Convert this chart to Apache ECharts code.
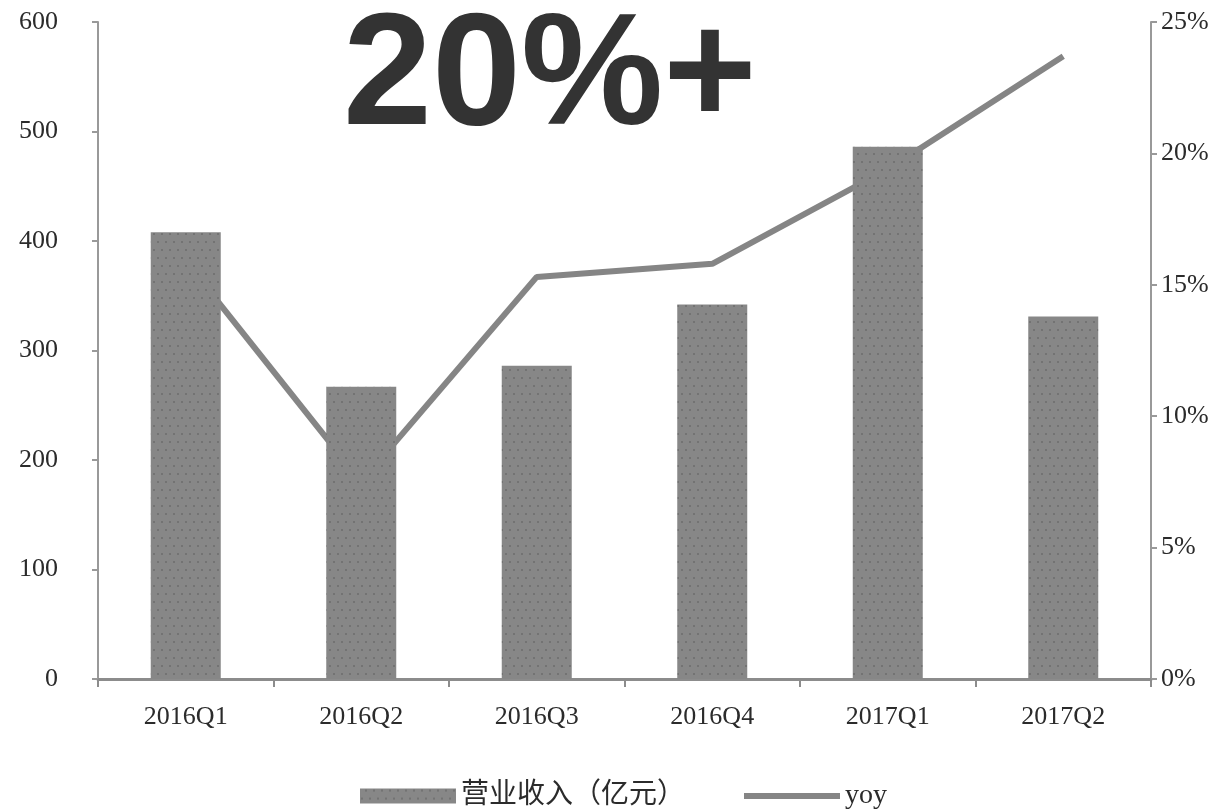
<!DOCTYPE html>
<html>
<head>
<meta charset="utf-8">
<script src="https://cdn.jsdelivr.net/npm/echarts@6/dist/echarts.min.js"></script>
<style>
  html, body { margin: 0; padding: 0; background: #fff; }
  #main { width: 1225px; height: 809px; }
</style>
</head>
<body>
<div id="main"></div>
<script>
var categories = ['2016Q1', '2016Q2', '2016Q3', '2016Q4', '2017Q1', '2017Q2'];
var revenue = [408, 267, 286, 342, 486, 331];      // 营业收入（亿元）
var yoy = [15.9, 7.5, 15.3, 15.8, 19.4, 23.7];       // yoy, %
var leftTicks = { min: 0, max: 600, interval: 100 };
var rightTicks = { min: 0, max: 25, interval: 5 };

var labelFont = {
    color: '#2b2b2b',
    fontFamily: '"Liberation Serif", "DejaVu Serif", serif',
    fontSize: 26
};

var myChart = echarts.init(document.getElementById('main'));

var option = {
    animation: false,
    backgroundColor: '#fff',
    grid: { left: 98, right: 74, top: 22, bottom: 130, containLabel: false },
    legend: {
        top: 777,
        left: 355,
        itemWidth: 96,
        itemHeight: 15,
        itemGap: 56,
        textStyle: {
            color: '#2b2b2b',
            fontFamily: '"Liberation Serif", "Noto Sans CJK SC", serif',
            fontSize: 28
        },
        data: [
            { name: '营业收入（亿元）', icon: 'rect' },
            {
                name: 'yoy',
                itemStyle: { color: 'transparent', borderWidth: 0, opacity: 0 },
                lineStyle: { color: '#858585', width: 6 }
            }
        ]
    },
    xAxis: {
        type: 'category',
        data: categories,
        boundaryGap: true,
        axisLine: { lineStyle: { color: '#8c8c8c', width: 3 } },
        axisTick: { show: true, length: 8, lineStyle: { color: '#8c8c8c', width: 2 } },
        axisLabel: Object.assign({ margin: 25 }, labelFont),
        splitLine: { show: false }
    },
    yAxis: [
        {
            type: 'value',
            min: leftTicks.min, max: leftTicks.max, interval: leftTicks.interval,
            axisLine: { show: true, lineStyle: { color: '#999', width: 2 } },
            axisTick: { show: true, length: 6, lineStyle: { color: '#999', width: 2 } },
            axisLabel: Object.assign({ margin: 40 }, labelFont),
            splitLine: { show: false }
        },
        {
            type: 'value',
            position: 'right',
            min: rightTicks.min, max: rightTicks.max, interval: rightTicks.interval,
            axisLine: { show: true, lineStyle: { color: '#999', width: 2 } },
            axisTick: { show: true, length: 6, lineStyle: { color: '#999', width: 2 } },
            axisLabel: Object.assign({ margin: 10, formatter: '{value}%' }, labelFont),
            splitLine: { show: false }
        }
    ],
    graphic: [
        {
            type: 'text',
            left: 343,
            top: 0,
            z: 100,
            style: {
                text: '20%+',
                fill: '#333',
                font: 'bold 160px "Liberation Sans", Arial, sans-serif'
            }
        }
    ],
    series: [
        {
            name: '营业收入（亿元）',
            type: 'bar',
            z: 3,
            barWidth: 70,
            itemStyle: {
                color: '#878787',
                decal: {
                    symbol: 'circle',
                    symbolSize: 0.5,
                    color: 'rgba(60,60,60,0.35)',
                    dashArrayX: [[4, 4], [0, 4, 4, 0]],
                    dashArrayY: [4, 4]
                }
            },
            data: revenue
        },
        {
            name: 'yoy',
            type: 'line',
            yAxisIndex: 1,
            z: 1,
            symbol: 'none',
            lineStyle: { color: '#858585', width: 6 },
            itemStyle: { color: '#858585' },
            data: yoy
        }
    ]
};

myChart.setOption(option);
</script>
</body>
</html>
